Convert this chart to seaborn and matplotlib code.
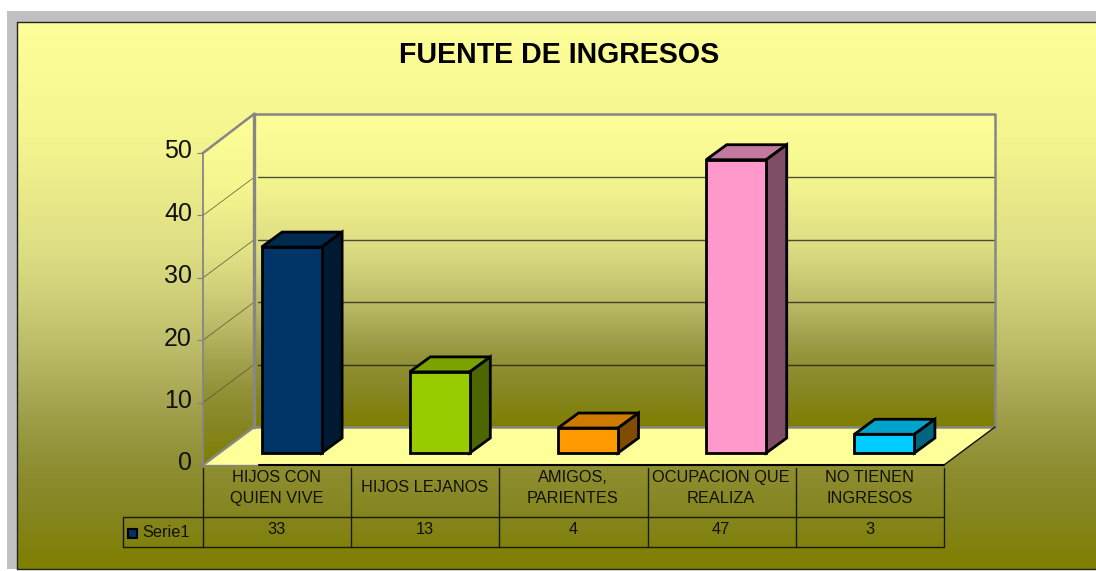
import numpy as np
import pandas as pd
import matplotlib
matplotlib.use("Agg")
import matplotlib.pyplot as plt
from matplotlib.patches import Polygon, Rectangle
from matplotlib.colors import LinearSegmentedColormap
from matplotlib.transforms import Affine2D, IdentityTransform, ScaledTranslation
import seaborn as sns

categories = ["HIJOS CON\nQUIEN VIVE", "HIJOS LEJANOS", "AMIGOS,\nPARIENTES",
              "OCUPACION QUE\nREALIZA", "NO TIENEN\nINGRESOS"]
values = [33, 13, 4, 47, 3]
series_name = "Serie1"
y_ticks = [0, 10, 20, 30, 40, 50]
title = "FUENTE DE INGRESOS"

front_colors = ["#003366", "#99CC00", "#FF9900", "#FF99CC", "#00CCFF"]
top_colors = ["#00294F", "#7AA300", "#CC7A00", "#C2789F", "#00A3CC"]
side_colors = ["#001A33", "#4D6600", "#804D00", "#804D66", "#006680"]

W, H = 1096, 571
sns.set_theme(style="white")
plt.rcParams["font.family"] = ["Liberation Sans", "DejaVu Sans"]
fig = plt.figure(figsize=(W / 100, H / 100), dpi=100, facecolor="white")

# pixel-coordinate backdrop
bg = fig.add_axes([0, 0, 1, 1], zorder=0)
bg.set_xlim(0, W)
bg.set_ylim(H, 0)
bg.axis("off")
cmap = LinearSegmentedColormap.from_list("g", [
    (0.0, "#FFFF99"), (0.2, "#F6F690"), (0.4, "#E0E085"), (0.5, "#D0D07A"),
    (0.6, "#BBBB68"), (0.7, "#A3A350"), (0.8, "#909035"), (0.9, "#858520"),
    (1.0, "#7F7F00")])
grad = np.linspace(0, 1, 256).reshape(-1, 1)


def gradient(extent, clip=None):
    im = bg.imshow(grad, cmap=cmap, aspect="auto", extent=extent, vmin=0, vmax=1, zorder=1)
    if clip is not None:
        poly = Polygon(clip, closed=True, transform=bg.transData, fc="none", ec="none")
        bg.add_patch(poly)
        im.set_clip_path(poly)
    return im


bg.add_patch(Rectangle((7, 11), W - 7, 11, fc="#C0C0C0", ec="none", zorder=1))
bg.add_patch(Rectangle((7, 11), 10, 558, fc="#C0C0C0", ec="none", zorder=1))
gradient((17, W, 569, 22))
bg.plot([17, W], [22, 22], color="#222222", lw=1, zorder=2)
bg.plot([17, 17], [22, 568.5], color="#222222", lw=1, zorder=2)
bg.plot([17, W], [568.5, 568.5], color="#222222", lw=1, zorder=2)

# walls and floor
FL, FR, FB, FT = 203, 944, 465, 153
BL, BR, BB, BT = 254, 995, 427, 114
gradient((BL, BR, BB, BT))
gradient((FL, BL, FB, BT), clip=[(FL, FB), (FL, FT), (BL, BT), (BL, BB)])
bg.add_patch(Polygon([(FL, FB), (BL, BB), (BR, BB), (FR, FB)], fc="#FFFF99", ec="none", zorder=2))

px_per_unit = (FB - FT) / 50
for v in y_ticks[1:-1]:
    bg.plot([258, BR], [BB - v * px_per_unit] * 2, color="#111111", lw=1, alpha=0.72, zorder=3)
for v in y_ticks[1:-1]:
    bg.plot([FL, BL], [FB - v * px_per_unit, BB - v * px_per_unit], color="#555533", lw=0.5, zorder=3)

wall = dict(color="#868686", zorder=4, solid_capstyle="projecting")
bg.plot([FL, BL], [FT, BT], lw=1.8, **wall)
bg.plot([BL, BR, BR], [BT, BT, BB], lw=1.8, **wall)
bg.plot([BL, BL], [BT, BB], lw=2.4, **wall)
bg.plot([BL, BR], [BB, BB], lw=1.8, **wall)
bg.plot([FL, BL], [FB, BB], lw=1.8, **wall)
bg.plot([FL, FL], [FT, FB], color="#868686", lw=1.3, zorder=4)
bg.plot([FL, 259], [FB, FB], color="#868686", lw=1, zorder=4)
bg.plot([FR, BR], [FB, BB], color="#111111", lw=1, zorder=4)

# data table
col_x = np.linspace(FL, FR, len(categories) + 1)
T0, T1, T2, LEG = FB, 517, 547, 123
line = dict(color="#1a1a00", lw=1, zorder=4)
bg.plot([259, FR], [T0, T0], color="black", lw=1.5, zorder=4)
bg.plot([LEG, FR], [T1, T1], **line)
bg.plot([LEG, FR], [T2, T2], **line)
bg.plot([LEG, LEG], [T1, T2], **line)
for x in col_x:
    bg.plot([x, x], [T0 + 3, T2], **line)
for i, (c, v) in enumerate(zip(categories, values)):
    cx = (col_x[i] + col_x[i + 1]) / 2 - 0.5
    bg.text(cx, 488, c, ha="center", va="center", fontsize=11.8, color="#111100",
            linespacing=1.45, zorder=5)
    bg.text(cx, 530, str(v), ha="center", va="center", fontsize=11.8, color="#111100", zorder=5)
bg.add_patch(Rectangle((127.5, 528.5), 9.5, 9.5, fc=front_colors[0], ec="black", lw=1.5, zorder=5))
bg.text(142, 532.5, series_name, ha="left", va="center", fontsize=11.8, color="#111100", zorder=5)
bg.text(559, 55, title, ha="center", va="center", fontsize=20.6, fontweight="bold", color="black", zorder=5)

# chart axes sit on the front plane
ax = fig.add_axes([FL / W, 1 - FB / H, (FR - FL) / W, (FB - FT) / H], zorder=2)
ax.patch.set_alpha(0)
df = pd.DataFrame({"fuente": categories, "valor": values})
sns.barplot(data=df, x="fuente", y="valor", hue="fuente", order=categories, hue_order=categories,
            palette=front_colors, width=0.405, saturation=1, edgecolor="black", linewidth=2,
            legend=False, ax=ax, zorder=3)
ax.set_xlim(-0.5, len(categories) - 0.5)
ax.set_ylim(0, 50)
ax.set_yticks(y_ticks)
ax.set_xticks([])
ax.set_xlabel("")
ax.set_ylabel("")
ax.grid(False)
for name in ["top", "right", "bottom", "left"]:
    ax.spines[name].set_visible(False)
ax.tick_params(axis="y", left=True, length=4.5, width=0.8, color="#808080", pad=3.5,
               labelsize=18, labelcolor="#111111")
up = ScaledTranslation(0, 4 / 100, fig.dpi_scale_trans)
for lab in ax.get_yticklabels():
    lab.set_transform(lab.get_transform() + up)

# 3-D extrusion of each bar built from the patches that seaborn drew
OX, OY = 14.5, 12     # bar plane offset from front plane (pixels)
DX, DY = 20.5, 15     # bar depth (pixels)
shift = Affine2D().translate(OX, OY)
ident = IdentityTransform()
for p, top, side in zip(ax.patches, top_colors, side_colors):
    p.set_transform(ax.transData + shift)
    p.set_clip_on(False)
    x, w, h = p.get_x(), p.get_width(), p.get_height()
    (x0, y0), (x1, y1) = shift.transform(ax.transData.transform([(x, 0), (x + w, h)]))
    face_top = [(x0, y1), (x1, y1), (x1 + DX, y1 + DY), (x0 + DX, y1 + DY)]
    face_side = [(x1, y0), (x1 + DX, y0 + DY), (x1 + DX, y1 + DY), (x1, y1)]
    for pts, col in ((face_top, top), (face_side, side)):
        ax.add_patch(Polygon(pts, closed=True, fc=col, ec="black", lw=2, joinstyle="miter",
                             transform=ident, clip_on=False, zorder=2.9))

fig.savefig("out.png", dpi=100, facecolor="white")
